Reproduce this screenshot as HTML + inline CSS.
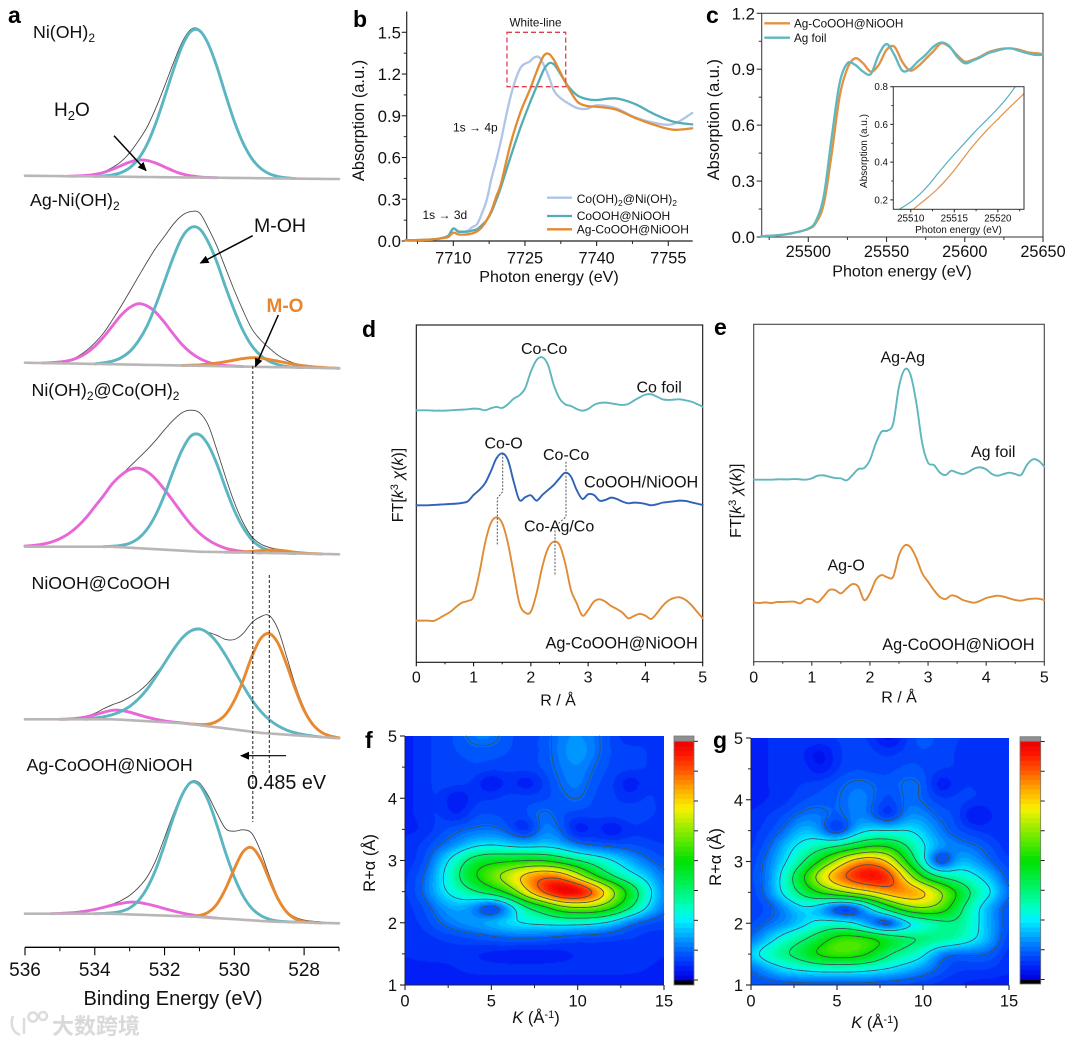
<!DOCTYPE html>
<html lang="en">
<head>
<meta charset="utf-8">
<title>XPS, XANES, EXAFS and wavelet transform panels</title>
<style>
html,body{margin:0;padding:0;background:#fff;}
#stage{position:relative;width:1075px;height:1045px;overflow:hidden;background:#fff;}
canvas{position:absolute;display:block;}
#figure{position:absolute;left:0;top:0;font-family:"Liberation Sans",Arial,sans-serif;fill:#111;}
</style>
</head>
<body>
<div id="stage">
<canvas id="heatmap-f" width="259" height="249" style="left:405px;top:736px"></canvas>
<canvas id="heatmap-g" width="258" height="247" style="left:751px;top:738px"></canvas>
<svg id="figure" xmlns="http://www.w3.org/2000/svg" width="1075" height="1045" viewBox="0 0 1075 1045">
<defs>
<clipPath id="inset-clip"><rect x="893.3" y="86.7" width="130.7" height="122.6"/></clipPath>
<marker id="arrow-head" markerWidth="9" markerHeight="8" refX="8" refY="4" orient="auto" markerUnits="userSpaceOnUse"><path d="M0 0L9 4L0 8Z" fill="#000"/></marker>
</defs>
<g id="plots"></g>
<g id="annotations">
<!-- panel letters -->
<g font-weight="bold" font-size="23" fill="#000">
<text x="8" y="23">a</text>
<text x="353" y="27">b</text>
<text x="706" y="23">c</text>
<text x="362" y="337">d</text>
<text x="714" y="335">e</text>
<text x="365" y="748">f</text>
<text x="713" y="748">g</text>
</g>
<!-- panel a -->
<g font-size="17.8" fill="#111">
<text x="33" y="38">Ni(OH)<tspan dy="4" font-size="12">2</tspan></text>
<text x="30" y="206">Ag-Ni(OH)<tspan dy="4" font-size="12">2</tspan></text>
<text x="31.5" y="396">Ni(OH)<tspan dy="4" font-size="12">2</tspan><tspan dy="-4">@Co(OH)</tspan><tspan dy="4" font-size="12">2</tspan></text>
<text x="31.5" y="589">NiOOH@CoOOH</text>
<text x="26.5" y="771">Ag-CoOOH@NiOOH</text>
</g>
<text x="54" y="116" font-size="19">H<tspan dy="4" font-size="13">2</tspan><tspan dy="-4">O</tspan></text>
<text x="254" y="232" font-size="19.5">M-OH</text>
<text x="266.5" y="312" font-size="19" font-weight="bold" fill="#e8862e">M-O</text>
<line x1="114" y1="135.7" x2="146" y2="170.5" stroke="#000" stroke-width="1.5" marker-end="url(#arrow-head)"/>
<line x1="252.7" y1="235.7" x2="200.5" y2="263" stroke="#000" stroke-width="1.5" marker-end="url(#arrow-head)"/>
<line x1="278.3" y1="315" x2="255.5" y2="366.5" stroke="#000" stroke-width="1.5" marker-end="url(#arrow-head)"/>
<line x1="252.8" y1="366" x2="252.8" y2="822" stroke="#222" stroke-width="1" stroke-dasharray="3 2"/>
<line x1="269.3" y1="575" x2="269.3" y2="773" stroke="#222" stroke-width="1" stroke-dasharray="3 2"/>
<line x1="286" y1="755.7" x2="241" y2="755.7" stroke="#000" stroke-width="1.2" marker-end="url(#arrow-head)"/>
<text x="247" y="789" font-size="20.5" textLength="79" lengthAdjust="spacingAndGlyphs">0.485 eV</text>
<text x="173" y="1005" font-size="20" text-anchor="middle">Binding Energy (eV)</text>
<!-- panel b -->
<text x="549" y="282" font-size="16.1" text-anchor="middle">Photon energy (eV)</text>
<text x="364" y="120.5" font-size="16.4" text-anchor="middle" transform="rotate(-90 364 120.5)">Absorption (a.u.)</text>
<text x="535.5" y="26.7" font-size="11.7" text-anchor="middle">White-line</text>
<rect x="507" y="32.3" width="58.7" height="54.4" fill="none" stroke="#e0404d" stroke-width="1.3" stroke-dasharray="5 3"/>
<text x="453" y="131.7" font-size="12">1s → 4p</text>
<text x="422.5" y="219" font-size="12">1s → 3d</text>
<g font-size="12">
<text x="576.7" y="203">Co(OH)<tspan dy="3" font-size="8.5">2</tspan><tspan dy="-3">@Ni(OH)</tspan><tspan dy="3" font-size="8.5">2</tspan></text>
<text x="576.7" y="220">CoOOH@NiOOH</text>
<text x="576.7" y="233.5">Ag-CoOOH@NiOOH</text>
</g>
<line x1="547" y1="197.7" x2="572" y2="197.7" stroke="#b0c4e8" stroke-width="2.3"/>
<line x1="547" y1="216" x2="572" y2="216" stroke="#52adb4" stroke-width="2.3"/>
<line x1="547" y1="229.3" x2="572" y2="229.3" stroke="#e48a33" stroke-width="2.3"/>
<!-- panel c -->
<text x="902" y="276.7" font-size="16.1" text-anchor="middle">Photon energy (eV)</text>
<text x="719" y="119.7" font-size="16.4" text-anchor="middle" transform="rotate(-90 719 119.7)">Absorption (a.u.)</text>
<line x1="764.3" y1="23.3" x2="790" y2="23.3" stroke="#e39244" stroke-width="2.4"/>
<line x1="764.3" y1="37.7" x2="790" y2="37.7" stroke="#5fb8c0" stroke-width="2.4"/>
<text x="794" y="27.5" font-size="11.7">Ag-CoOOH@NiOOH</text>
<text x="794" y="41.8" font-size="11.7">Ag foil</text>
<text x="958.5" y="233" font-size="10" text-anchor="middle">Photon energy (eV)</text>
<text x="867" y="151" font-size="10" text-anchor="middle" transform="rotate(-90 867 151)">Absorption (a.u.)</text>
<!-- panel d -->
<text x="558" y="705.5" font-size="16" text-anchor="middle">R / Å</text>
<text x="403" y="485" font-size="16" text-anchor="middle" transform="rotate(-90 403 485)">FT[<tspan font-style="italic">k</tspan><tspan dy="-5" font-size="11">3</tspan><tspan dy="5"> </tspan><tspan font-style="italic">χ</tspan>(<tspan font-style="italic">k</tspan>)]</text>
<g font-size="16">
<text x="521" y="354">Co-Co</text>
<text x="636.5" y="392.5">Co foil</text>
<text x="484.5" y="448.5">Co-O</text>
<text x="543" y="460">Co-Co</text>
<text x="584" y="487.5" font-size="16.2">CoOOH/NiOOH</text>
<text x="524" y="531.5">Co-Ag/Co</text>
<text x="545.5" y="648.5" font-size="16.3">Ag-CoOOH@NiOOH</text>
</g>
<polyline points="502.7,453.3 502.7,491.7 497.3,498.3 497.3,546" fill="none" stroke="#555" stroke-width="1" stroke-dasharray="2 1.5"/>
<polyline points="566,461.7 566,516.7 555,526.7 555,576" fill="none" stroke="#555" stroke-width="1" stroke-dasharray="2 1.5"/>
<!-- panel e -->
<text x="899" y="702.3" font-size="16" text-anchor="middle">R / Å</text>
<text x="741" y="500.7" font-size="16" text-anchor="middle" transform="rotate(-90 741 500.7)">FT[<tspan font-style="italic">k</tspan><tspan dy="-5" font-size="11">3</tspan><tspan dy="5"> </tspan><tspan font-style="italic">χ</tspan>(<tspan font-style="italic">k</tspan>)]</text>
<g font-size="16">
<text x="880.5" y="362.5">Ag-Ag</text>
<text x="971" y="457">Ag foil</text>
<text x="827.5" y="570.5">Ag-O</text>
<text x="882.3" y="650" font-size="16.3">Ag-CoOOH@NiOOH</text>
</g>
<!-- panels f g -->
<text x="375" y="863" font-size="16.5" text-anchor="middle" transform="rotate(-90 375 863)">R+α (Å)</text>
<text x="536" y="1023" font-size="16.5" text-anchor="middle"><tspan font-style="italic">K</tspan> (Å<tspan dy="-5" font-size="11">-1</tspan><tspan dy="5">)</tspan></text>
<text x="721" y="857" font-size="16.5" text-anchor="middle" transform="rotate(-90 721 857)">R+α (Å)</text>
<text x="875" y="1028" font-size="16.5" text-anchor="middle"><tspan font-style="italic">K</tspan> (Å<tspan dy="-5" font-size="11">-1</tspan><tspan dy="5">)</tspan></text>
<!-- watermark -->
<g fill="none" stroke="#dcdcdc" stroke-width="2.5">
<path d="M13 1016C10 1024 12 1032 20 1035"/><path d="M24 1018L24 1034"/>
<circle cx="33" cy="1017" r="4.5"/><circle cx="43" cy="1016" r="4"/>
</g>
<text x="52" y="1034" font-size="22" fill="#d9d9d9" font-weight="bold" style="font-family:'Liberation Sans','Noto Sans CJK SC',sans-serif">大数跨境</text>
</g>
</svg>
</div>
<script>
/* ---------- panel a: XPS O 1s (intensity above each trace's zero line) ---------- */
const aEnergy = [536,535.75,535.5,535.25,535,534.75,534.5,534.25,534,533.75,533.5,533.25,533,532.75,532.5,532.25,532,531.75,531.5,531.25,531,530.75,530.5,530.25,530,529.75,529.5,529.25,529,528.75,528.5,528.25,528,527.75,527.5,527.25,527];
const aTickValues = [536,534,532,530,528];
const aMinorValues = [535,533,531,529,527];

const a1Base = [4.3,4.2,4.1,4,3.9,3.8,3.7,3.7,3.6,3.5,3.4,3.3,3.2,3.1,3,2.9,2.8,2.7,2.6,2.5,2.4,2.3,2.3,2.2,2.1,2,1.9,1.8,1.7,1.6,1.5,1.4,1.3,1.2,1.1,1,1];
const a1Magenta = [0,0,0,0,0,0,.3,.8,2,4,7.2,11,14.7,16.8,16.5,14,10.3,6.5,3.5,1.7,.7,.2,0,0,0,0,0,0,0,0,0,0,0,0,0,0,0];
const a1Teal = [0,0,0,0,0,0,0,0,0,.6,1.7,4.1,9,18,32.7,54,80,107,131,146,147,134,111,83,56.5,35,19.6,10,4.6,1.9,.7,0,0,0,0,0,0];
const a1Total = [0,0,0,0,0,0,.3,.8,2,4.8,9,15,24,36,50,69,91,114,135,148,148,134,111,83,57,35,20,10,5,2,.7,0,0,0,0,0,0];

const a2Base = [6.3,6.1,6,5.8,5.7,5.5,5.4,5.2,5.1,4.9,4.8,4.6,4.4,4.3,4.1,4,3.8,3.7,3.5,3.4,3.2,3.1,2.9,2.7,2.6,2.4,2.3,2.1,2,1.8,1.7,1.5,1.4,1.2,1,.9,.7];
const a2Magenta = [0,0,0,.5,1.3,2.8,5.7,10.5,17.6,27,38,49,57,61,59,52.6,42.6,31.4,21,13,7.4,3.7,1.8,.7,.3,0,0,0,0,0,0,0,0,0,0,0,0];
const a2Teal = [0,0,0,0,0,0,0,0,0,1.3,3,6.6,13,23.7,39,60,84,108,128,138,137,124,104,79,56,36,21,11.5,5.7,2.6,.8,.3,0,0,0,0,0];
const a2Orange = [0,0,0,0,0,0,0,0,0,0,0,0,0,0,0,0,0,0,0,.4,.9,1.8,3,4.6,6.3,8,9,8.8,7.5,6,4.4,3,1.8,1,.5,.2,0];
const a2Total = [0,0,0,.5,1.5,3,7,13,21,31,44,58,73,88,103,117,129,141,150,154,153,138,120,98,76,56,38,27,19,12,7,4,2.5,1.5,.5,0,0];

const a3Base = [8.3,8.3,8.3,8.3,8.3,8.3,8.3,8.3,8.3,8.3,8.2,7.8,7.3,6.8,6.3,5.8,5.3,4.8,4.3,3.8,3.3,3.1,3,2.8,2.6,2.5,2.3,2.1,2,1.8,1.7,1.5,1.3,1.2,1,.9,.7];
const a3Magenta = [.6,1.3,2.5,4.6,8,13,20,29,40,51,63,72,78,80,77,70,60,49,37.6,27,18.5,12,7.2,4,2.2,1,.5,0,0,0,0,0,0,0,0,0,0];
const a3Teal = [0,0,0,0,0,0,0,0,0,0,.6,1.8,4.4,9.8,19.5,34.6,55,79,100.5,115,117,107,88,64,42,25,13,6,2.6,1,.3,0,0,0,0,0,0];
const a3Orange = [0,0,0,0,0,0,0,0,0,0,0,0,0,0,0,0,0,0,0,0,0,0,0,0,.2,.6,1.3,2.2,3,3,2.2,1.2,.6,.2,0,0,0];
const a3Total = [.6,1.3,2.5,4.6,8,13,20,29,40,51,62,72,81,90,99,109,120,130,138,141,139,127,102,75,50,30,16,9,5.6,4,2.5,1.2,.4,0,0,0,0];

const a4Base = [20.7,20.7,20.7,20.7,20.7,20.7,20.7,20.7,20.7,20.7,20.7,20.3,19.8,19.3,18.8,18.3,17.8,17.3,16.8,16,14.9,13.8,12.7,11.6,10.5,9.4,8.3,7.2,6.5,5.9,5.3,4.7,4.1,3.5,2.9,2.3,1.7];
const a4Magenta = [0,0,0,0,0,.3,1,2.4,4.5,7,9,9.3,8,6,4,2.4,1.3,.6,.2,0,0,0,0,0,0,0,0,0,0,0,0,0,0,0,0,0,0];
const a4Teal = [0,0,0,0,0,0,0,0,1.2,2.5,4.6,8.3,13.8,21.7,32,45,59,73,85,93,96,93,85,73,59,45,32,21.7,13.8,8.3,4.6,2.5,1.2,.5,0,0,0];
const a4Orange = [0,0,0,0,0,0,0,0,0,0,0,0,0,0,0,0,0,0,0,0,.6,2,6,14,29,50,75,94,100,91,70,46,25.5,12,4.8,1.7,.5];
const a4Total = [0,0,0,0,0,.3,1.2,3,6,10.5,14.5,18,23,29,37,48,60,74,86,94,97,94,92,89,90,97,109,116,118,105,78,50,28,13,5.5,2,.5];

const a5Base = [11.3,11.3,11.3,11.3,11.3,11.3,11.3,11.3,11.3,11.3,11.2,10.9,10.6,10.3,10,9.7,9.4,9.1,8.8,8.5,8,7.4,6.9,6.3,5.8,5.2,4.7,4.1,3.6,3.2,3,2.8,2.5,2.3,2.1,1.9,1.7];
const a5Magenta = [0,0,0,0,.3,.7,1.4,2.6,4.2,6.3,8.6,10.7,12.2,12.3,11,9.2,7,5,3.2,1.8,.9,.3,0,0,0,0,0,0,0,0,0,0,0,0,0,0,0];
const a5Teal = [0,0,0,0,0,0,0,0,0,.3,1,2.7,6.4,14,27,46,71,98,121,134,132,117,93,66,42,24,12,5.5,2.2,.8,.3,0,0,0,0,0,0];
const a5Orange = [0,0,0,0,0,0,0,0,0,0,0,0,0,0,0,0,0,0,0,0,1.6,5.3,14,30,50.5,68,72.6,62,42,23,10,3.4,1,.2,0,0,0];
const a5Total = [0,0,0,0,.3,.7,1.4,2.6,4.2,6.6,9.6,13.5,19,27,38,55,78,102,123,135,134,122,105,90,88,90,87,70,46,25,11,5,2.5,1.5,1,.3,0];

/* ---------- panel b: Co K-edge XANES ---------- */
const bEnergy = [7700,7703,7706,7708,7709,7710,7711,7712,7713,7714,7715,7716,7717,7718,7719,7720,7722,7724,7726,7727,7728,7729,7730,7731,7732,7734,7736,7738,7740,7744,7748,7752,7756,7760];
const bCoOH = [.005,.007,.012,.024,.04,.088,.072,.067,.074,.1,.122,.2,.295,.45,.58,.726,1.04,1.24,1.29,1.32,1.32,1.26,1.18,1.085,1.04,.99,.955,.95,.975,.955,.89,.85,.84,.92];
const bCoOOH = [.005,.007,.012,.024,.04,.09,.067,.067,.067,.075,.086,.115,.15,.21,.295,.39,.606,.81,.99,1.074,1.157,1.235,1.277,1.272,1.225,1.114,1.045,1.02,1.013,1.025,.985,.913,.858,.838];
const bAgCoOOH = [.005,.007,.012,.022,.03,.06,.048,.046,.048,.055,.07,.1,.15,.22,.32,.415,.7,.92,1.085,1.177,1.265,1.335,1.345,1.305,1.24,1.105,1,.97,.965,.945,.885,.835,.8,.81];
const bXTicks = [7710,7725,7740,7755];
const bXMinor = [7702.5,7717.5,7732.5,7747.5];
const bYTicks = [0,.3,.6,.9,1.2,1.5];
const bYLabels = ['0.0','0.3','0.6','0.9','1.2','1.5'];
const bYMinor = [.15,.45,.75,1.05,1.35];

/* ---------- panel c: Ag K-edge XANES ---------- */
const cEnergy = [25470,25480,25490,25500,25505,25510,25515,25520,25525,25530,25535,25540,25545,25550,25555,25560,25565,25570,25575,25580,25585,25590,25595,25600,25605,25610,25615,25620,25625,25630,25635,25640,25645,25650];
const cAgCoOOH = [.004,.009,.021,.043,.077,.181,.449,.753,.905,.959,.932,.887,.923,1.004,1.021,.941,.893,.915,.955,.997,1.039,1.021,.977,.941,.95,.968,.991,1.004,1.011,1.011,1.004,.991,.986,.982];
const cAgFoil = [.004,.009,.021,.045,.088,.225,.538,.825,.932,.923,.887,.875,.977,1.035,.977,.893,.9,.941,.977,1.021,1.043,1.025,.968,.932,.946,.964,.986,.998,1.009,1.011,.998,.986,.977,.977];
const cXTicks = [25500,25550,25600,25650];
const cXMinor = [25475,25525,25575,25625];
const cYTicks = [0,.3,.6,.9,1.2];
const cYLabels = ['0.0','0.3','0.6','0.9','1.2'];
const cYMinor = [.15,.45,.75,1.05];

const insetEnergy = [25508,25509,25510,25511,25512,25513,25514,25515,25516,25517,25518,25519,25520,25521,25522,25523];
const insetAgCoOOH = [.11,.127,.142,.177,.214,.255,.303,.358,.418,.478,.532,.582,.628,.674,.719,.763];
const insetAgFoil = [.131,.159,.189,.228,.276,.333,.389,.441,.492,.543,.591,.637,.685,.738,.8,.864];
const insetXTicks = [25510,25515,25520];
const insetXMinor = [25512.5,25517.5,25522.5];
const insetYTicks = [.2,.4,.6,.8];
const insetYLabels = ['0.2','0.4','0.6','0.8'];
const insetYMinor = [.3,.5,.7];

/* ---------- panels d, e: EXAFS FT magnitude (stacked, arbitrary units) ---------- */
const rValues = [0,.1,.2,.3,.4,.5,.6,.7,.8,.9,1,1.1,1.2,1.3,1.4,1.5,1.6,1.7,1.8,1.9,2,2.1,2.2,2.3,2.4,2.5,2.6,2.7,2.8,2.9,3,3.1,3.2,3.3,3.4,3.5,3.6,3.7,3.8,3.9,4,4.1,4.2,4.3,4.4,4.5,4.6,4.7,4.8,4.9,5];
const dCoFoil = [756,756,756,755,755,755,756,757,758,759,761,760,756,762,766,763,774,791,801,822,872,907,915,892,832,792,774,769,760,755,760,772,778,779,777,774,772,775,785,795,803,804,797,789,787,788,789,786,782,775,767];
const dCoOOH = [471,471,471,472,473,474,475,476,478,483,502,517,537,572,612,627,607,542,487,495,501,485,502,517,532,552,569,557,517,490,504,502,485,487,494,490,482,477,479,478,475,471,474,479,481,483,485,484,480,476,472];
const dAgCoOOH = [125,125,125,124,132,142,152,167,179,184,197,267,357,417,435,417,357,267,177,149,152,207,287,342,362,352,297,217,177,140,157,182,189,182,169,160,149,132,139,145,140,130,147,169,185,193,195,187,172,152,132];
const eAgFoil = [546,546,546,546,547,547,547,548,547,546,550,558,559,555,551,550,544,560,578,581,605,655,690,693,715,825,877,860,775,655,597,590,568,560,573,567,563,570,580,583,577,563,558,563,567,563,560,590,607,603,585];
const eAgCoOOH = [178,176,178,176,179,179,180,180,175,187,187,178,195,215,215,205,220,233,225,185,205,245,260,253,255,320,349,343,310,265,240,215,195,188,199,195,185,180,177,183,191,195,198,195,190,185,183,187,189,189,185];
const rTicks = [0,1,2,3,4,5];
const rMinor = [.5,1.5,2.5,3.5,4.5];

/* ---------- panels f, g: wavelet transform intensity (% of scale) ---------- */
const kGrid = [0,1,2,3,4,5,6,7,8,9,10,11,12,13,14,15];
const rGrid = [5,4.75,4.5,4.25,4,3.75,3.5,3.25,3,2.75,2.5,2.25,2,1.75,1.5,1.25,1];
const fieldF = [
[5,7,9,10,15,15,10,9,10,15,17,14,9,6,8,7],
[5,7,9,10,11,11,10,9,10,15,19,14,9,9,8,7],
[5,7,9,9,10,9,9,9,10,14,17,12,9,9,8,7],
[5,7,9,9,8,2,8,3,8,13,16,10,9,3,8,7],
[5,7,9,2,8,7.5,9,9,9,11,14,9,9,6,9,7],
[5,7,9,4,10,10,9,9,15,10,9,9,9,10,9,7],
[5,6,9,11.5,13,14,11,3,17,13,2,8,2,8,7,6],
[7,8,12,17,23,25,22,20,22,20,13,11,10.5,10,9,8],
[7,8,19,31,44,47,49,50,50,44,37,32,25,19,13,10],
[7,11,22,36,50,60,69,80,88,86,69,50,37,28,22,12.5],
[7,12,22,30,37,44,54,73,92,104,104,90,67,47,30,14],
[7,9,16,20,16,3,17,37,45,60,64,63,54,40,25,13],
[7,8,12.5,16,18,20,24,26,27,28,27.5,26,22,13,10,9],
[6,7,8,9,10,11,12,12,11.5,10,9,9,8,8,7,7],
[6,7,7,7,6,5,4.5,4,4.5,5,6,7,7,7,7,6],
[5,5,5,6,7,7,7,7,7,7,7,7,7,7,6,5],
[4,4,4,4,4,4,4,4,4,4,4,4,4,4,4,4]
];
const fieldG = [
[5,6,7,8,8,8,9,8,1,8,12,9,8,8,7,6],
[5,6,7,7,1,8,9,9,7,9,10,9,8,5,7,6],
[5,6,7,8,3,8,10,9,9,11,10,8,8,7,7,6],
[5,6,7,8,9,11,14,13,10,14,13,2,8,8,7,6],
[5,6,7,10,11,11.5,16,14,7,14.5,12,8,9,8,7,6],
[6,8,10,14,15,10,16,14,3,17,16,11,10,1,7,6],
[7,9,13,22,18,2,20,25.5,24,26,22,14,10,8,7,6],
[7,11,21,28,33,37,43,50,50,38,26,17,15,13,10,6],
[8,14,24,36,51,66,82,86,76,50,29,0,22,18,12,8],
[9,14,30,49,70,85,95,100,96,72,49,36,32,27,20,9],
[8,14,29,41,52,60,68,74,83,85,80,66,50,34,26,11],
[8,10,16,25,20,5,5,26,45,60,65,60,42,28,17,9],
[9,13,16,22,28,29,26,12,2,21,27,34,37,28,17,9],
[12.5,21,30,36,44,56,56,54,47,40,38,37,33,26,18,7],
[21,32,37,44,54,57,56,50,38,33,28,13,12,13,12,6],
[12,18,24,26,28,28,28,26,24,20,16,11,8,8,8,6],
[10,10,10,10,10,10,10,10,9,9,8,7,6,5,5,5]
];
const contourLevels = [12.5,25,37.5,50,62.5,75,87.5];
const colorbarTicks = [0,12.5,25,37.5,50,62.5,75,87.5,100];
const colorStopValues = [0,5,12.5,25,30,40,50,60,72,80,87.5,95,100];
const colorStopRed = [0,0,0,0,0,0,0,110,250,255,255,255,235];
const colorStopGreen = [0,30,100,240,255,240,225,235,240,170,90,20,0];
const colorStopBlue = [220,245,255,255,200,90,0,0,0,0,0,0,0];
const mapKTicks = [0,5,10,15];
const mapKMinor = [2.5,7.5,12.5];
const mapRTicks = [1,2,3,4,5];
const mapRMinor = [1.5,2.5,3.5,4.5];

/* ---------- drawing helpers ---------- */
const NS = 'http://www.w3.org/2000/svg';
const plots = document.getElementById('plots');
function mk(tag, attrs, parent) {
  const el = document.createElementNS(NS, tag);
  for (const k in attrs) el.setAttribute(k, attrs[k]);
  (parent || plots).appendChild(el);
  return el;
}
function linear(d0, d1, p0, p1) { return v => p0 + (v - d0) * (p1 - p0) / (d1 - d0); }
function splinePath(pts) {
  let d = 'M' + pts[0][0].toFixed(2) + ' ' + pts[0][1].toFixed(2);
  for (let i = 0; i < pts.length - 1; i++) {
    const p0 = pts[Math.max(0, i - 1)], p1 = pts[i], p2 = pts[i + 1], p3 = pts[Math.min(pts.length - 1, i + 2)];
    const c1x = p1[0] + (p2[0] - p0[0]) / 6, c1y = p1[1] + (p2[1] - p0[1]) / 6;
    const c2x = p2[0] - (p3[0] - p1[0]) / 6, c2y = p2[1] - (p3[1] - p1[1]) / 6;
    d += 'C' + c1x.toFixed(2) + ' ' + c1y.toFixed(2) + ' ' + c2x.toFixed(2) + ' ' + c2y.toFixed(2) + ' ' + p2[0].toFixed(2) + ' ' + p2[1].toFixed(2);
  }
  return d;
}
function drawLine(name, pts, color, width, clip) {
  const el = mk('path', { d: splinePath(pts), fill: 'none', stroke: color, 'stroke-width': width, 'stroke-linejoin': 'round', 'stroke-linecap': 'round' });
  if (clip) el.setAttribute('clip-path', 'url(#' + clip + ')');
  
  
  return el;
}
function seg(name, x1, y1, x2, y2, color, width) {
  const el = mk('line', { x1: x1, y1: y1, x2: x2, y2: y2, stroke: color, 'stroke-width': width });
  
  
  return el;
}
function label(name, x, y, str, size, anchor) {
  const el = mk('text', { x: x, y: y, 'font-size': size, 'text-anchor': anchor });
  el.textContent = str;
  
  
  return el;
}
function xTicks(prefix, scale, axisY, majors, labels, minors, baseY, size, majorLen, minorLen, color) {
  majors.forEach((v, i) => {
    seg(prefix + '-x-tick', scale(v), axisY, scale(v), axisY + majorLen, color, 1.1);
    label(prefix + '-x-tick-label', scale(v), baseY, String(labels[i]), size, 'middle');
  });
  minors.forEach(v => seg(prefix + '-x-minor-tick', scale(v), axisY, scale(v), axisY + minorLen, color, 1));
}
function yTicks(prefix, scale, axisX, majors, labels, minors, labelX, size, majorLen, minorLen, color, dy) {
  majors.forEach((v, i) => {
    seg(prefix + '-y-tick', axisX, scale(v), axisX - majorLen, scale(v), color, 1.1);
    label(prefix + '-y-tick-label', labelX, scale(v) + dy, String(labels[i]), size, 'end');
  });
  minors.forEach(v => seg(prefix + '-y-minor-tick', axisX, scale(v), axisX - minorLen, scale(v), color, 1));
}
function frame(name, x, y, w, h, color, width) {
  const el = mk('rect', { x: x, y: y, width: w, height: h, fill: 'none', stroke: color, 'stroke-width': width });
  
  
  return el;
}

/* ---------- panel a ---------- */
const xA = linear(536, 527, 25, 339);
function drawComponent(name, zero, base, values, color, width) {
  let first = values.findIndex(v => v > 0);
  let last = values.length - 1;
  while (last > 0 && !(values[last] > 0)) last--;
  if (first < 0) return;
  first = Math.max(0, first - 1);
  last = Math.min(values.length - 1, last + 1);
  const pts = [];
  for (let i = first; i <= last; i++) pts.push([xA(aEnergy[i]), zero - base[i] - values[i]]);
  drawLine(name, pts, color, width);
}
function drawTrace(name, zero, base, magenta, teal, orange, total) {
  drawComponent(name + '-measured', zero, base, total, '#444', 0.85);
  drawComponent(name + '-fit-h2o', zero, base, magenta, '#e766d8', 2.9);
  drawComponent(name + '-fit-m-oh', zero, base, teal, '#5cb6c1', 2.9);
  if (orange) drawComponent(name + '-fit-m-o', zero, base, orange, '#e8892f', 2.9);
  drawLine(name + '-baseline', aEnergy.map((e, i) => [xA(e), zero - base[i]]), '#bab6b6', 2.6);
}
drawTrace('trace-ni-oh2', 180, a1Base, a1Magenta, a1Teal, null, a1Total);
drawTrace('trace-ag-ni-oh2', 369, a2Base, a2Magenta, a2Teal, a2Orange, a2Total);
drawTrace('trace-ni-oh2-co-oh2', 555, a3Base, a3Magenta, a3Teal, a3Orange, a3Total);
drawTrace('trace-niooh-coooh', 740, a4Base, a4Magenta, a4Teal, a4Orange, a4Total);
drawTrace('trace-ag-coooh-niooh', 925, a5Base, a5Magenta, a5Teal, a5Orange, a5Total);
seg('x-axis-a', 25, 947.3, 339, 947.3, '#000', 1.4);
xTicks('panel-a', xA, 947.3, aTickValues, aTickValues, aMinorValues, 976, 19, 8, 4, '#000');

/* ---------- panel b ---------- */
const xB = linear(7710, 7755, 453.3, 668.3);
const yB = linear(0, 1.5, 241, 32.3);
seg('y-axis-b', 406.7, 11.5, 406.7, 241, '#222', 1.2);
seg('x-axis-b', 406.7, 241, 692.7, 241, '#222', 1.2);
xTicks('panel-b', xB, 241, bXTicks, bXTicks, bXMinor, 263.3, 16.3, 5, 3, '#222');
yTicks('panel-b', yB, 406.7, bYTicks, bYLabels, bYMinor, 401, 16.8, 5, 3, '#222', 6);
drawLine('series-co-oh2-ni-oh2', bEnergy.map((e, i) => [xB(e), yB(bCoOH[i])]), '#b0c4e8', 2.3);
drawLine('series-coooh-niooh', bEnergy.map((e, i) => [xB(e), yB(bCoOOH[i])]), '#52adb4', 2.3);
drawLine('series-ag-coooh-niooh', bEnergy.map((e, i) => [xB(e), yB(bAgCoOOH[i])]), '#e48a33', 2.3);

/* ---------- panel c ---------- */
const xC = linear(25500, 25650, 808.3, 1043);
const yC = linear(0, 1.2, 237, 13.3);
frame('plot-frame-c', 761.7, 13.3, 281.3, 223.7, '#444', 1.1);
xTicks('panel-c', xC, 237, cXTicks, cXTicks, cXMinor, 257, 16.3, 5, 3, '#333');
yTicks('panel-c', yC, 761.7, cYTicks, cYLabels, cYMinor, 755, 16.8, 5, 3, '#333', 6);
drawLine('series-c-ag-coooh', cEnergy.map((e, i) => [xC(e), yC(cAgCoOOH[i])]), '#e39244', 2.3);
drawLine('series-c-ag-foil', cEnergy.map((e, i) => [xC(e), yC(cAgFoil[i])]), '#5fb8c0', 2.3);

const xI = linear(25508, 25523, 893.3, 1024);
const yI = linear(.8, .15, 86.7, 209.3);
const insetBg = mk('rect', { x: 893.3, y: 86.7, width: 130.7, height: 122.6, fill: '#fff' });


drawLine('inset-series-ag-coooh', insetEnergy.map((e, i) => [xI(e), yI(insetAgCoOOH[i])]), '#e0914c', 1.2, 'inset-clip');
drawLine('inset-series-ag-foil', insetEnergy.map((e, i) => [xI(e), yI(insetAgFoil[i])]), '#55b0bb', 1.2, 'inset-clip');
frame('inset-frame', 893.3, 86.7, 130.7, 122.6, '#333', 1);
xTicks('inset', xI, 209.3, insetXTicks, insetXTicks, insetXMinor, 221.7, 9.8, 3, 2, '#333');
yTicks('inset', yI, 893.3, insetYTicks, insetYLabels, insetYMinor, 888, 9.8, 3, 2, '#333', 3.5);

/* ---------- panels d, e ---------- */
const xD = linear(0, 5, 416.3, 702.7);
const yD = v => 662.3 - v / 3;
frame('plot-frame-d', 416.3, 325, 286.4, 337.3, '#111', 1.1);
xTicks('panel-d', xD, 662.3, rTicks, rTicks, rMinor, 682.7, 16, 4, 2, '#111');
drawLine('series-co-foil', rValues.map((r, i) => [xD(r), yD(dCoFoil[i])]), '#5fb6bd', 1.9);
drawLine('series-coooh-niooh-ft', rValues.map((r, i) => [xD(r), yD(dCoOOH[i])]), '#2f62b8', 1.9);
drawLine('series-ag-coooh-ft-d', rValues.map((r, i) => [xD(r), yD(dAgCoOOH[i])]), '#e08b35', 1.9);

const xE = linear(0, 5, 753.7, 1044.3);
const yE = v => 661.7 - v / 3;
frame('plot-frame-e', 753.7, 324.3, 290.6, 337.4, '#444', 1.1);
xTicks('panel-e', xE, 661.7, rTicks, rTicks, rMinor, 682.3, 16, 4, 2, '#333');
drawLine('series-ag-foil', rValues.map((r, i) => [xE(r), yE(eAgFoil[i])]), '#5fb6bd', 1.9);
drawLine('series-ag-coooh-ft-e', rValues.map((r, i) => [xE(r), yE(eAgCoOOH[i])]), '#e08b35', 1.9);

/* ---------- panels f, g ---------- */
function crom(a, b, c, d, t) { return b + .5 * t * (c - a + t * (2 * a - 5 * b + 4 * c - d + t * (3 * (b - c) + d - a))); }
function bspl(a, b, c, d, t) {
  const t2 = t * t, t3 = t2 * t, u = 1 - t;
  return (u * u * u * a + (3 * t3 - 6 * t2 + 4) * b + (-3 * t3 + 3 * t2 + 3 * t + 1) * c + t3 * d) / 6;
}
function sampleField(field, k, r) {
  const cols = kGrid.length, rows = rGrid.length;
  const fx = Math.max(0, Math.min(cols - 1.0001, (k - kGrid[0]) / (kGrid[1] - kGrid[0])));
  const fy = Math.max(0, Math.min(rows - 1.0001, (r - rGrid[0]) / (rGrid[1] - rGrid[0])));
  const ix = Math.floor(fx), iy = Math.floor(fy), tx = fx - ix, ty = fy - iy;
  const col = [];
  for (let j = -1; j <= 2; j++) {
    const row = field[Math.max(0, Math.min(rows - 1, iy + j))];
    col.push(bspl(row[Math.max(0, ix - 1)], row[ix], row[Math.min(cols - 1, ix + 1)], row[Math.min(cols - 1, ix + 2)], tx));
  }
  return .6 * crom(col[0], col[1], col[2], col[3], ty) + .4 * bspl(col[0], col[1], col[2], col[3], ty);
}
function colorOf(t) {
  const v = Math.max(0, Math.min(100, t));
  let i = 0;
  while (i < colorStopValues.length - 2 && v > colorStopValues[i + 1]) i++;
  const f = (v - colorStopValues[i]) / (colorStopValues[i + 1] - colorStopValues[i]);
  return [
    colorStopRed[i] + f * (colorStopRed[i + 1] - colorStopRed[i]),
    colorStopGreen[i] + f * (colorStopGreen[i + 1] - colorStopGreen[i]),
    colorStopBlue[i] + f * (colorStopBlue[i + 1] - colorStopBlue[i])
  ];
}
function drawMap(prefix, canvasId, field, left, top, w, h) {
  const xK = linear(0, 15, left, left + w);
  const yR = linear(1, 5, top + h, top);
  const canvas = document.getElementById(canvasId);
  const ctx = canvas.getContext('2d');
  const img = ctx.createImageData(w, h);
  for (let py = 0; py < h; py++) {
    const r = 5 - (py + .5) / h * 4;
    for (let px = 0; px < w; px++) {
      const k = (px + .5) / w * 15;
      const t = Math.floor(sampleField(field, k, r) / 2) * 2 + 1;
      const c = colorOf(t);
      const o = (py * w + px) * 4;
      img.data[o] = c[0]; img.data[o + 1] = c[1]; img.data[o + 2] = c[2]; img.data[o + 3] = 255;
    }
  }
  ctx.putImageData(img, 0, 0);

  const step = 1.5;
  const nx = Math.floor(w / step), ny = Math.floor(h / step);
  const lattice = [];
  for (let j = 0; j <= ny; j++) {
    const row = [];
    for (let i = 0; i <= nx; i++) row.push(sampleField(field, i / nx * 15, 5 - j / ny * 4));
    lattice.push(row);
  }
  contourLevels.forEach(level => {
    let d = '';
    const px = (i, j) => [left + i / nx * w, top + j / ny * h];
    const cross = (a, b, va, vb) => {
      const f = (level - va) / (vb - va);
      return [(a[0] + f * (b[0] - a[0])).toFixed(1), (a[1] + f * (b[1] - a[1])).toFixed(1)];
    };
    for (let j = 0; j < ny; j++) {
      for (let i = 0; i < nx; i++) {
        const v0 = lattice[j][i], v1 = lattice[j][i + 1], v2 = lattice[j + 1][i + 1], v3 = lattice[j + 1][i];
        const pts = [];
        if ((v0 > level) !== (v1 > level)) pts.push(cross(px(i, j), px(i + 1, j), v0, v1));
        if ((v1 > level) !== (v2 > level)) pts.push(cross(px(i + 1, j), px(i + 1, j + 1), v1, v2));
        if ((v2 > level) !== (v3 > level)) pts.push(cross(px(i + 1, j + 1), px(i, j + 1), v2, v3));
        if ((v3 > level) !== (v0 > level)) pts.push(cross(px(i, j + 1), px(i, j), v3, v0));
        if (pts.length >= 2) d += 'M' + pts[0][0] + ' ' + pts[0][1] + 'L' + pts[1][0] + ' ' + pts[1][1];
        if (pts.length === 4) d += 'M' + pts[2][0] + ' ' + pts[2][1] + 'L' + pts[3][0] + ' ' + pts[3][1];
      }
    }
    const path = mk('path', { d: d, fill: 'none', stroke: '#3c4f4f', 'stroke-width': 0.9, 'stroke-linecap': 'round', 'stroke-opacity': 0.9 });
    
    
  });
  seg(prefix + '-y-axis', left, top, left, top + h, '#223', 1);
  seg(prefix + '-x-axis', left, top + h, left + w, top + h, '#223', 1);
  xTicks(prefix, xK, top + h, mapKTicks, mapKTicks, mapKMinor, 1006.5, 16.5, 5, 3, '#222');
  yTicks(prefix, yR, left, mapRTicks, mapRTicks, mapRMinor, left - 8, 16.5, 5, 3, '#222', 6);
}
drawMap('panel-f', 'heatmap-f', fieldF, 405, 736, 259, 249);
drawMap('panel-g', 'heatmap-g', fieldG, 751, 738, 258, 247);

function drawColorbar(prefix, x, w, top, bottom, y100, y0) {
  const yT = linear(0, 100, y0, y100);
  const gray = mk('rect', { x: x, y: top, width: w, height: y100 - top, fill: '#8f8f8f' });
  
  
  const black = mk('rect', { x: x, y: y0, width: w, height: bottom - y0, fill: '#000' });
  
  
  for (let t = 0; t < 100; t += 2) {
    const c = colorOf(t + 1);
    const cell = mk('rect', { x: x, y: yT(t + 2), width: w, height: yT(t) - yT(t + 2) + .4, fill: 'rgb(' + c.map(Math.round).join(',') + ')' });
    
    
  }
  frame(prefix + '-frame', x, top, w, bottom - top, '#777', .8);
  colorbarTicks.forEach(t => seg(prefix + '-tick', x + w, yT(t), x + w + 4, yT(t), '#222', 1));
}
drawColorbar('colorbar-f', 674, 20, 736, 985, 741.3, 980);
drawColorbar('colorbar-g', 1020, 20.7, 736.7, 984, 741.5, 979.5);
</script>
</body>
</html>
